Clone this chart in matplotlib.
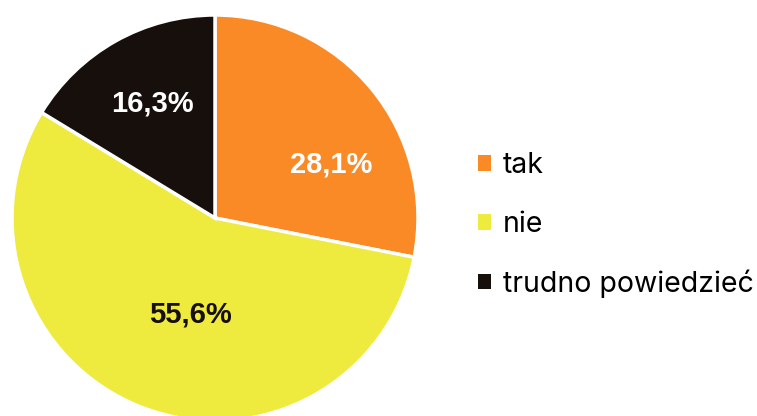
import numpy as np
import matplotlib
matplotlib.use("Agg")
import matplotlib.pyplot as plt
from matplotlib.patches import Patch

labels = ["tak", "nie", "trudno powiedzieć"]
values = [28.1, 55.6, 16.3]
value_labels = ["28,1%", "55,6%", "16,3%"]
colors = ["#FA8A25", "#EEEA3E", "#160F0C"]
text_colors = ["white", "#160F0C", "white"]

# label placement (angle in degrees, distance as fraction of radius)
label_angles = [24.7, -104.5, 118.7]
label_dists = [0.63, 0.49, 0.645]

fig = plt.figure(figsize=(7.57, 4.16), dpi=100, facecolor="white")
W, H = 757, 416
cx, cy, r = 215, 218, 203
ax = fig.add_axes([(cx - r) / W, (H - cy - r) / H, 2 * r / W, 2 * r / H])

wedges, _ = ax.pie(values, colors=colors, startangle=90, counterclock=False,
                   radius=1, wedgeprops=dict(edgecolor="white", linewidth=2.5))
ax.set_xlim(-1, 1)
ax.set_ylim(-1, 1)
ax.set_aspect("equal")
ax.axis("off")

for txt, col, ang, d in zip(value_labels, text_colors, label_angles, label_dists):
    a = np.deg2rad(ang)
    ax.text(d * np.cos(a), d * np.sin(a), txt, ha="center", va="center",
            color=col, fontsize=21, fontweight="bold", family="Liberation Sans")

handles = [Patch(facecolor=c, edgecolor="none") for c in colors]
fig.legend(handles, labels, loc="center left", bbox_to_anchor=(452 / W, 1 - 225 / H),
           frameon=False, handlelength=0.48, handleheight=0.48, handletextpad=0.4,
           labelspacing=1.1, prop={"family": "Inter", "size": 20.5})

fig.savefig("out.png", dpi=100)
